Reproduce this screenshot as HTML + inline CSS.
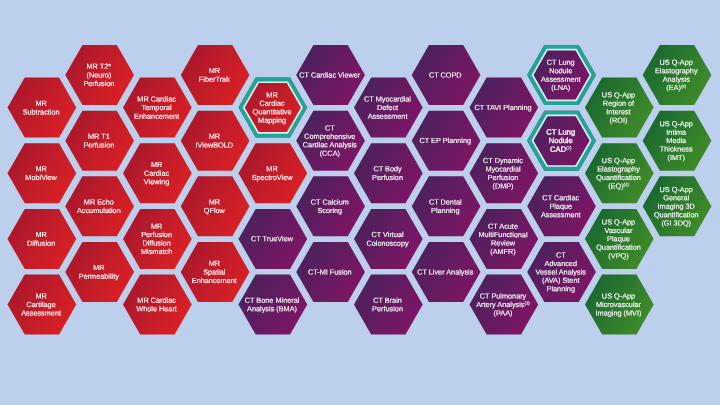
<!DOCTYPE html>
<html><head><meta charset="utf-8"><title>Applications</title>
<style>
html,body{margin:0;padding:0}
body{width:720px;height:405px;overflow:hidden;background:#bccfec;position:relative;font-family:"Liberation Sans",sans-serif}
svg{position:absolute;left:0;top:0}
.t{position:absolute;left:0;top:0;width:0;height:0;color:#fff;font-size:7.3px;line-height:9px;-webkit-text-stroke:0.15px #fff}
.t span{position:absolute;left:0;top:0;width:90px;height:9px;display:block;text-align:center;white-space:nowrap}
.t sup{font-size:4.3px;line-height:0;vertical-align:2.4px;-webkit-text-stroke:0.1px #fff}
</style></head><body>
<svg width="720" height="405" viewBox="0 0 720 405">
<defs>
<linearGradient id="r" gradientUnits="userSpaceOnUse" x1="-25.9" y1="-16.2" x2="25.9" y2="16.2"><stop offset="0" stop-color="#ac182c"/><stop offset="1" stop-color="#d82025"/></linearGradient>
<linearGradient id="p" gradientUnits="userSpaceOnUse" x1="-25.9" y1="-16.2" x2="25.9" y2="16.2"><stop offset="0" stop-color="#4d215d"/><stop offset="1" stop-color="#7d1565"/></linearGradient>
<linearGradient id="g" gradientUnits="userSpaceOnUse" x1="-25.9" y1="-16.2" x2="25.9" y2="16.2"><stop offset="0" stop-color="#1a6a30"/><stop offset="1" stop-color="#3f8a29"/></linearGradient>
</defs>
<g transform="translate(41.90,107.60)"><polygon points="-34.40,0.00 -17.20,-30.00 17.20,-30.00 34.40,0.00 17.20,30.00 -17.20,30.00" fill="url(#r)"/></g>
<g transform="translate(41.90,173.25)"><polygon points="-34.40,0.00 -17.20,-30.00 17.20,-30.00 34.40,0.00 17.20,30.00 -17.20,30.00" fill="url(#r)"/></g>
<g transform="translate(41.90,238.90)"><polygon points="-34.40,0.00 -17.20,-30.00 17.20,-30.00 34.40,0.00 17.20,30.00 -17.20,30.00" fill="url(#r)"/></g>
<g transform="translate(41.90,304.55)"><polygon points="-34.40,0.00 -17.20,-30.00 17.20,-30.00 34.40,0.00 17.20,30.00 -17.20,30.00" fill="url(#r)"/></g>
<g transform="translate(99.64,75.00)"><polygon points="-34.40,0.00 -17.20,-30.00 17.20,-30.00 34.40,0.00 17.20,30.00 -17.20,30.00" fill="url(#r)"/></g>
<g transform="translate(99.64,140.65)"><polygon points="-34.40,0.00 -17.20,-30.00 17.20,-30.00 34.40,0.00 17.20,30.00 -17.20,30.00" fill="url(#r)"/></g>
<g transform="translate(99.64,206.30)"><polygon points="-34.40,0.00 -17.20,-30.00 17.20,-30.00 34.40,0.00 17.20,30.00 -17.20,30.00" fill="url(#r)"/></g>
<g transform="translate(99.64,271.95)"><polygon points="-34.40,0.00 -17.20,-30.00 17.20,-30.00 34.40,0.00 17.20,30.00 -17.20,30.00" fill="url(#r)"/></g>
<g transform="translate(157.38,107.60)"><polygon points="-34.40,0.00 -17.20,-30.00 17.20,-30.00 34.40,0.00 17.20,30.00 -17.20,30.00" fill="url(#r)"/></g>
<g transform="translate(157.38,173.25)"><polygon points="-34.40,0.00 -17.20,-30.00 17.20,-30.00 34.40,0.00 17.20,30.00 -17.20,30.00" fill="url(#r)"/></g>
<g transform="translate(157.38,238.90)"><polygon points="-34.40,0.00 -17.20,-30.00 17.20,-30.00 34.40,0.00 17.20,30.00 -17.20,30.00" fill="url(#r)"/></g>
<g transform="translate(157.38,304.55)"><polygon points="-34.40,0.00 -17.20,-30.00 17.20,-30.00 34.40,0.00 17.20,30.00 -17.20,30.00" fill="url(#r)"/></g>
<g transform="translate(215.12,75.00)"><polygon points="-34.40,0.00 -17.20,-30.00 17.20,-30.00 34.40,0.00 17.20,30.00 -17.20,30.00" fill="url(#r)"/></g>
<g transform="translate(215.12,140.65)"><polygon points="-34.40,0.00 -17.20,-30.00 17.20,-30.00 34.40,0.00 17.20,30.00 -17.20,30.00" fill="url(#r)"/></g>
<g transform="translate(215.12,206.30)"><polygon points="-34.40,0.00 -17.20,-30.00 17.20,-30.00 34.40,0.00 17.20,30.00 -17.20,30.00" fill="url(#r)"/></g>
<g transform="translate(215.12,271.95)"><polygon points="-34.40,0.00 -17.20,-30.00 17.20,-30.00 34.40,0.00 17.20,30.00 -17.20,30.00" fill="url(#r)"/></g>
<g transform="translate(272.86,107.60)"><polygon points="-34.40,0.00 -17.20,-30.00 17.20,-30.00 34.40,0.00 17.20,30.00 -17.20,30.00" fill="url(#r)"/><polygon points="-29.61,0.00 -14.80,-25.85 14.80,-25.85 29.61,0.00 14.80,25.85 -14.80,25.85" fill="none" stroke="#e0eef5" stroke-width="2.7"/><polygon points="-32.21,0.00 -16.10,-28.10 16.10,-28.10 32.21,0.00 16.10,28.10 -16.10,28.10" fill="none" stroke="#1fa697" stroke-width="3.8"/></g>
<g transform="translate(272.86,173.25)"><polygon points="-34.40,0.00 -17.20,-30.00 17.20,-30.00 34.40,0.00 17.20,30.00 -17.20,30.00" fill="url(#r)"/></g>
<g transform="translate(272.86,238.90)"><polygon points="-34.40,0.00 -17.20,-30.00 17.20,-30.00 34.40,0.00 17.20,30.00 -17.20,30.00" fill="url(#p)"/></g>
<g transform="translate(272.86,304.55)"><polygon points="-34.40,0.00 -17.20,-30.00 17.20,-30.00 34.40,0.00 17.20,30.00 -17.20,30.00" fill="url(#p)"/></g>
<g transform="translate(330.60,75.00)"><polygon points="-34.40,0.00 -17.20,-30.00 17.20,-30.00 34.40,0.00 17.20,30.00 -17.20,30.00" fill="url(#p)"/></g>
<g transform="translate(330.60,140.65)"><polygon points="-34.40,0.00 -17.20,-30.00 17.20,-30.00 34.40,0.00 17.20,30.00 -17.20,30.00" fill="url(#p)"/></g>
<g transform="translate(330.60,206.30)"><polygon points="-34.40,0.00 -17.20,-30.00 17.20,-30.00 34.40,0.00 17.20,30.00 -17.20,30.00" fill="url(#p)"/></g>
<g transform="translate(330.60,271.95)"><polygon points="-34.40,0.00 -17.20,-30.00 17.20,-30.00 34.40,0.00 17.20,30.00 -17.20,30.00" fill="url(#p)"/></g>
<g transform="translate(388.34,107.60)"><polygon points="-34.40,0.00 -17.20,-30.00 17.20,-30.00 34.40,0.00 17.20,30.00 -17.20,30.00" fill="url(#p)"/></g>
<g transform="translate(388.34,173.25)"><polygon points="-34.40,0.00 -17.20,-30.00 17.20,-30.00 34.40,0.00 17.20,30.00 -17.20,30.00" fill="url(#p)"/></g>
<g transform="translate(388.34,238.90)"><polygon points="-34.40,0.00 -17.20,-30.00 17.20,-30.00 34.40,0.00 17.20,30.00 -17.20,30.00" fill="url(#p)"/></g>
<g transform="translate(388.34,304.55)"><polygon points="-34.40,0.00 -17.20,-30.00 17.20,-30.00 34.40,0.00 17.20,30.00 -17.20,30.00" fill="url(#p)"/></g>
<g transform="translate(446.08,75.00)"><polygon points="-34.40,0.00 -17.20,-30.00 17.20,-30.00 34.40,0.00 17.20,30.00 -17.20,30.00" fill="url(#p)"/></g>
<g transform="translate(446.08,140.65)"><polygon points="-34.40,0.00 -17.20,-30.00 17.20,-30.00 34.40,0.00 17.20,30.00 -17.20,30.00" fill="url(#p)"/></g>
<g transform="translate(446.08,206.30)"><polygon points="-34.40,0.00 -17.20,-30.00 17.20,-30.00 34.40,0.00 17.20,30.00 -17.20,30.00" fill="url(#p)"/></g>
<g transform="translate(446.08,271.95)"><polygon points="-34.40,0.00 -17.20,-30.00 17.20,-30.00 34.40,0.00 17.20,30.00 -17.20,30.00" fill="url(#p)"/></g>
<g transform="translate(503.82,107.60)"><polygon points="-34.40,0.00 -17.20,-30.00 17.20,-30.00 34.40,0.00 17.20,30.00 -17.20,30.00" fill="url(#p)"/></g>
<g transform="translate(503.82,173.25)"><polygon points="-34.40,0.00 -17.20,-30.00 17.20,-30.00 34.40,0.00 17.20,30.00 -17.20,30.00" fill="url(#p)"/></g>
<g transform="translate(503.82,238.90)"><polygon points="-34.40,0.00 -17.20,-30.00 17.20,-30.00 34.40,0.00 17.20,30.00 -17.20,30.00" fill="url(#p)"/></g>
<g transform="translate(503.82,304.55)"><polygon points="-34.40,0.00 -17.20,-30.00 17.20,-30.00 34.40,0.00 17.20,30.00 -17.20,30.00" fill="url(#p)"/></g>
<g transform="translate(561.56,75.00)"><polygon points="-34.40,0.00 -17.20,-30.00 17.20,-30.00 34.40,0.00 17.20,30.00 -17.20,30.00" fill="url(#p)"/><polygon points="-29.61,0.00 -14.80,-25.85 14.80,-25.85 29.61,0.00 14.80,25.85 -14.80,25.85" fill="none" stroke="#e0eef5" stroke-width="2.7"/><polygon points="-32.21,0.00 -16.10,-28.10 16.10,-28.10 32.21,0.00 16.10,28.10 -16.10,28.10" fill="none" stroke="#1fa697" stroke-width="3.8"/></g>
<g transform="translate(561.56,140.65)"><polygon points="-34.40,0.00 -17.20,-30.00 17.20,-30.00 34.40,0.00 17.20,30.00 -17.20,30.00" fill="url(#p)"/><polygon points="-29.61,0.00 -14.80,-25.85 14.80,-25.85 29.61,0.00 14.80,25.85 -14.80,25.85" fill="none" stroke="#e0eef5" stroke-width="2.7"/><polygon points="-32.21,0.00 -16.10,-28.10 16.10,-28.10 32.21,0.00 16.10,28.10 -16.10,28.10" fill="none" stroke="#1fa697" stroke-width="3.8"/></g>
<g transform="translate(561.56,206.30)"><polygon points="-34.40,0.00 -17.20,-30.00 17.20,-30.00 34.40,0.00 17.20,30.00 -17.20,30.00" fill="url(#p)"/></g>
<g transform="translate(561.56,271.95)"><polygon points="-34.40,0.00 -17.20,-30.00 17.20,-30.00 34.40,0.00 17.20,30.00 -17.20,30.00" fill="url(#p)"/></g>
<g transform="translate(619.30,107.60)"><polygon points="-34.40,0.00 -17.20,-30.00 17.20,-30.00 34.40,0.00 17.20,30.00 -17.20,30.00" fill="url(#g)"/></g>
<g transform="translate(619.30,173.25)"><polygon points="-34.40,0.00 -17.20,-30.00 17.20,-30.00 34.40,0.00 17.20,30.00 -17.20,30.00" fill="url(#g)"/></g>
<g transform="translate(619.30,238.90)"><polygon points="-34.40,0.00 -17.20,-30.00 17.20,-30.00 34.40,0.00 17.20,30.00 -17.20,30.00" fill="url(#g)"/></g>
<g transform="translate(619.30,304.55)"><polygon points="-34.40,0.00 -17.20,-30.00 17.20,-30.00 34.40,0.00 17.20,30.00 -17.20,30.00" fill="url(#g)"/></g>
<g transform="translate(677.04,75.00)"><polygon points="-34.40,0.00 -17.20,-30.00 17.20,-30.00 34.40,0.00 17.20,30.00 -17.20,30.00" fill="url(#g)"/></g>
<g transform="translate(677.04,140.65)"><polygon points="-34.40,0.00 -17.20,-30.00 17.20,-30.00 34.40,0.00 17.20,30.00 -17.20,30.00" fill="url(#g)"/></g>
<g transform="translate(677.04,206.30)"><polygon points="-34.40,0.00 -17.20,-30.00 17.20,-30.00 34.40,0.00 17.20,30.00 -17.20,30.00" fill="url(#g)"/></g>
</svg>
<div class="t"><span style="transform:translate(-3.90px,98.70px) rotate(.03deg)">MR</span><span style="transform:translate(-3.90px,107.40px) rotate(.03deg)">Subtraction</span></div>
<div class="t"><span style="transform:translate(-3.90px,164.35px) rotate(.03deg)">MR</span><span style="transform:translate(-3.90px,173.05px) rotate(.03deg)">MobiView</span></div>
<div class="t"><span style="transform:translate(-3.90px,230.00px) rotate(.03deg)">MR</span><span style="transform:translate(-3.90px,238.70px) rotate(.03deg)">Diffusion</span></div>
<div class="t"><span style="transform:translate(-3.90px,291.40px) rotate(.03deg)">MR</span><span style="transform:translate(-3.90px,300.00px) rotate(.03deg)">Cartilage</span><span style="transform:translate(-3.90px,308.60px) rotate(.03deg)">Assessment</span></div>
<div class="t"><span style="transform:translate(53.84px,61.85px) rotate(.03deg)">MR T2*</span><span style="transform:translate(53.84px,70.45px) rotate(.03deg)">(Neuro)</span><span style="transform:translate(53.84px,79.05px) rotate(.03deg)">Perfusion</span></div>
<div class="t"><span style="transform:translate(53.84px,131.75px) rotate(.03deg)">MR T1</span><span style="transform:translate(53.84px,140.45px) rotate(.03deg)">Perfusion</span></div>
<div class="t"><span style="transform:translate(53.84px,197.40px) rotate(.03deg)">MR Echo</span><span style="transform:translate(53.84px,206.10px) rotate(.03deg)">Accumulation</span></div>
<div class="t"><span style="transform:translate(53.84px,263.05px) rotate(.03deg)">MR</span><span style="transform:translate(53.84px,271.75px) rotate(.03deg)">Permeability</span></div>
<div class="t"><span style="transform:translate(111.58px,94.45px) rotate(.03deg)">MR Cardiac</span><span style="transform:translate(111.58px,103.05px) rotate(.03deg)">Temporal</span><span style="transform:translate(111.58px,111.65px) rotate(.03deg)">Enhancement</span></div>
<div class="t"><span style="transform:translate(111.58px,160.10px) rotate(.03deg)">MR</span><span style="transform:translate(111.58px,168.70px) rotate(.03deg)">Cardiac</span><span style="transform:translate(111.58px,177.30px) rotate(.03deg)">Viewing</span></div>
<div class="t"><span style="transform:translate(111.58px,221.67px) rotate(.03deg)">MR</span><span style="transform:translate(111.58px,230.12px) rotate(.03deg)">Perfusion</span><span style="transform:translate(111.58px,238.57px) rotate(.03deg)">Diffusion</span><span style="transform:translate(111.58px,247.03px) rotate(.03deg)">Mismatch</span></div>
<div class="t"><span style="transform:translate(111.58px,295.65px) rotate(.03deg)">MR Cardiac</span><span style="transform:translate(111.58px,304.35px) rotate(.03deg)">Whole Heart</span></div>
<div class="t"><span style="transform:translate(169.32px,66.10px) rotate(.03deg)">MR</span><span style="transform:translate(169.32px,74.80px) rotate(.03deg)">FiberTrak</span></div>
<div class="t"><span style="transform:translate(169.32px,131.75px) rotate(.03deg)">MR</span><span style="transform:translate(169.32px,140.45px) rotate(.03deg)">IViewBOLD</span></div>
<div class="t"><span style="transform:translate(169.32px,197.40px) rotate(.03deg)">MR</span><span style="transform:translate(169.32px,206.10px) rotate(.03deg)">QFlow</span></div>
<div class="t"><span style="transform:translate(169.32px,258.80px) rotate(.03deg)">MR</span><span style="transform:translate(169.32px,267.40px) rotate(.03deg)">Spatial</span><span style="transform:translate(169.32px,276.00px) rotate(.03deg)">Enhancement</span></div>
<div class="t"><span style="transform:translate(227.06px,90.38px) rotate(.03deg)">MR</span><span style="transform:translate(227.06px,98.83px) rotate(.03deg)">Cardiac</span><span style="transform:translate(227.06px,107.27px) rotate(.03deg)">Quantitative</span><span style="transform:translate(227.06px,115.72px) rotate(.03deg)">Mapping</span></div>
<div class="t"><span style="transform:translate(227.06px,164.35px) rotate(.03deg)">MR</span><span style="transform:translate(227.06px,173.05px) rotate(.03deg)">SpectroView</span></div>
<div class="t"><span style="transform:translate(227.06px,234.35px) rotate(.03deg)">CT TrueView</span></div>
<div class="t"><span style="transform:translate(227.06px,295.65px) rotate(.03deg)">CT Bone Mineral</span><span style="transform:translate(227.06px,304.35px) rotate(.03deg)">Analysis (BMA)</span></div>
<div class="t"><span style="transform:translate(284.80px,70.45px) rotate(.03deg)">CT Cardiac Viewer</span></div>
<div class="t"><span style="transform:translate(284.80px,123.42px) rotate(.03deg)">CT</span><span style="transform:translate(284.80px,131.88px) rotate(.03deg)">Comprehensive</span><span style="transform:translate(284.80px,140.32px) rotate(.03deg)">Cardiac Analysis</span><span style="transform:translate(284.80px,148.78px) rotate(.03deg)">(CCA)</span></div>
<div class="t"><span style="transform:translate(284.80px,197.40px) rotate(.03deg)">CT Calcium</span><span style="transform:translate(284.80px,206.10px) rotate(.03deg)">Scoring</span></div>
<div class="t"><span style="transform:translate(284.80px,267.40px) rotate(.03deg)">CT-MI Fusion</span></div>
<div class="t"><span style="transform:translate(342.54px,94.45px) rotate(.03deg)">CT Myocardial</span><span style="transform:translate(342.54px,103.05px) rotate(.03deg)">Defect</span><span style="transform:translate(342.54px,111.65px) rotate(.03deg)">Assessment</span></div>
<div class="t"><span style="transform:translate(342.54px,164.35px) rotate(.03deg)">CT Body</span><span style="transform:translate(342.54px,173.05px) rotate(.03deg)">Perfusion</span></div>
<div class="t"><span style="transform:translate(342.54px,230.00px) rotate(.03deg)">CT Virtual</span><span style="transform:translate(342.54px,238.70px) rotate(.03deg)">Colonoscopy</span></div>
<div class="t"><span style="transform:translate(342.54px,295.65px) rotate(.03deg)">CT Brain</span><span style="transform:translate(342.54px,304.35px) rotate(.03deg)">Perfusion</span></div>
<div class="t"><span style="transform:translate(400.28px,70.45px) rotate(.03deg)">CT COPD</span></div>
<div class="t"><span style="transform:translate(400.28px,136.10px) rotate(.03deg)">CT EP Planning</span></div>
<div class="t"><span style="transform:translate(400.28px,197.40px) rotate(.03deg)">CT Dental</span><span style="transform:translate(400.28px,206.10px) rotate(.03deg)">Planning</span></div>
<div class="t"><span style="transform:translate(400.28px,267.40px) rotate(.03deg)">CT Liver Analysis</span></div>
<div class="t"><span style="transform:translate(458.02px,103.05px) rotate(.03deg)">CT TAVI Planning</span></div>
<div class="t"><span style="transform:translate(458.02px,156.02px) rotate(.03deg)">CT Dynamic</span><span style="transform:translate(458.02px,164.47px) rotate(.03deg)">Myocardial</span><span style="transform:translate(458.02px,172.92px) rotate(.03deg)">Perfusion</span><span style="transform:translate(458.02px,181.38px) rotate(.03deg)">(DMP)</span></div>
<div class="t"><span style="transform:translate(458.02px,221.67px) rotate(.03deg)">CT Acute</span><span style="transform:translate(458.02px,230.12px) rotate(.03deg)">MultiFunctional</span><span style="transform:translate(458.02px,238.57px) rotate(.03deg)">Review</span><span style="transform:translate(458.02px,247.03px) rotate(.03deg)">(AMFR)</span></div>
<div class="t"><span style="transform:translate(458.02px,291.40px) rotate(.03deg)">CT Pulmonary</span><span style="transform:translate(458.02px,300.00px) rotate(.03deg)">Artery Analysis<sup>(3)</sup></span><span style="transform:translate(458.02px,308.60px) rotate(.03deg)">(PAA)</span></div>
<div class="t"><span style="transform:translate(515.76px,57.78px) rotate(.03deg)">CT Lung</span><span style="transform:translate(515.76px,66.23px) rotate(.03deg)">Nodule</span><span style="transform:translate(515.76px,74.67px) rotate(.03deg)">Assessment</span><span style="transform:translate(515.76px,83.12px) rotate(.03deg)">(LNA)</span></div>
<div class="t" style="font-size:7.6px;-webkit-text-stroke:0.3px #fff"><span style="transform:translate(515.76px,127.50px) rotate(.03deg)">CT Lung</span><span style="transform:translate(515.76px,136.10px) rotate(.03deg)">Nodule</span><span style="transform:translate(515.76px,144.70px) rotate(.03deg)">CAD<sup>(2)</sup></span></div>
<div class="t"><span style="transform:translate(515.76px,193.15px) rotate(.03deg)">CT Cardiac</span><span style="transform:translate(515.76px,201.75px) rotate(.03deg)">Plaque</span><span style="transform:translate(515.76px,210.35px) rotate(.03deg)">Assessment</span></div>
<div class="t"><span style="transform:translate(515.76px,250.60px) rotate(.03deg)">CT</span><span style="transform:translate(515.76px,259.00px) rotate(.03deg)">Advanced</span><span style="transform:translate(515.76px,267.40px) rotate(.03deg)">Vessel Analysis</span><span style="transform:translate(515.76px,275.80px) rotate(.03deg)">(AVA) Stent</span><span style="transform:translate(515.76px,284.20px) rotate(.03deg)">Planning</span></div>
<div class="t"><span style="transform:translate(573.50px,90.38px) rotate(.03deg)">US Q-App</span><span style="transform:translate(573.50px,98.83px) rotate(.03deg)">Region of</span><span style="transform:translate(573.50px,107.27px) rotate(.03deg)">Interest</span><span style="transform:translate(573.50px,115.72px) rotate(.03deg)">(ROI)</span></div>
<div class="t"><span style="transform:translate(573.50px,156.02px) rotate(.03deg)">US Q-App</span><span style="transform:translate(573.50px,164.47px) rotate(.03deg)">Elastography</span><span style="transform:translate(573.50px,172.92px) rotate(.03deg)">Quantification</span><span style="transform:translate(573.50px,181.38px) rotate(.03deg)">(EQ)<sup>(4)</sup></span></div>
<div class="t"><span style="transform:translate(573.50px,217.55px) rotate(.03deg)">US Q-App</span><span style="transform:translate(573.50px,225.95px) rotate(.03deg)">Vascular</span><span style="transform:translate(573.50px,234.35px) rotate(.03deg)">Plaque</span><span style="transform:translate(573.50px,242.75px) rotate(.03deg)">Quantification</span><span style="transform:translate(573.50px,251.15px) rotate(.03deg)">(VPQ)</span></div>
<div class="t"><span style="transform:translate(573.50px,291.40px) rotate(.03deg)">US Q-App</span><span style="transform:translate(573.50px,300.00px) rotate(.03deg)">Microvascular</span><span style="transform:translate(573.50px,308.60px) rotate(.03deg)">Imaging (MVI)</span></div>
<div class="t"><span style="transform:translate(631.24px,57.78px) rotate(.03deg)">US Q-App</span><span style="transform:translate(631.24px,66.23px) rotate(.03deg)">Elastography</span><span style="transform:translate(631.24px,74.67px) rotate(.03deg)">Analysis</span><span style="transform:translate(631.24px,83.12px) rotate(.03deg)">(EA)<sup>(4)</sup></span></div>
<div class="t"><span style="transform:translate(631.24px,119.30px) rotate(.03deg)">US Q-App</span><span style="transform:translate(631.24px,127.70px) rotate(.03deg)">Intima</span><span style="transform:translate(631.24px,136.10px) rotate(.03deg)">Media</span><span style="transform:translate(631.24px,144.50px) rotate(.03deg)">Thickness</span><span style="transform:translate(631.24px,152.90px) rotate(.03deg)">(IMT)</span></div>
<div class="t"><span style="transform:translate(631.24px,184.95px) rotate(.03deg)">US Q-App</span><span style="transform:translate(631.24px,193.35px) rotate(.03deg)">General</span><span style="transform:translate(631.24px,201.75px) rotate(.03deg)">Imaging 3D</span><span style="transform:translate(631.24px,210.15px) rotate(.03deg)">Quantification</span><span style="transform:translate(631.24px,218.55px) rotate(.03deg)">(GI 3DQ)</span></div>
</body></html>
